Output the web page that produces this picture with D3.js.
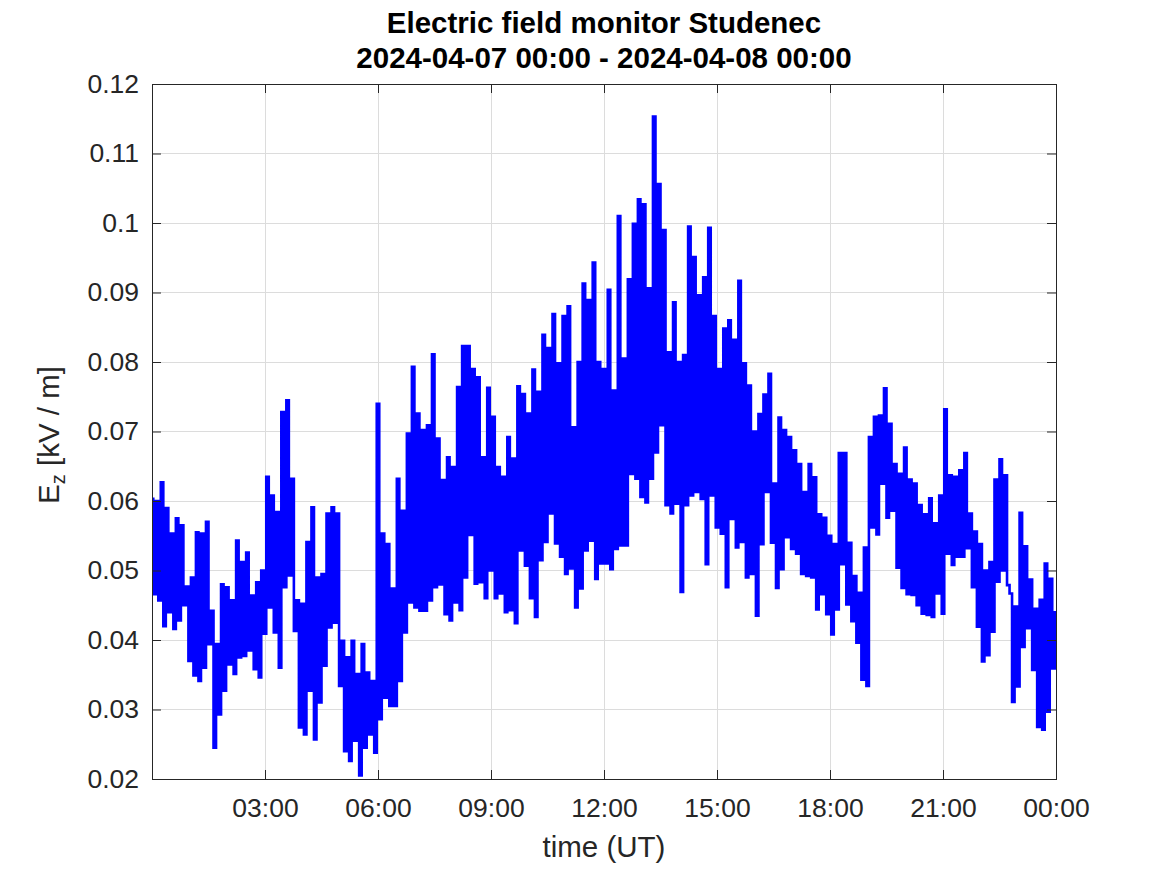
<!DOCTYPE html>
<html>
<head>
<meta charset="utf-8">
<script src="https://cdn.jsdelivr.net/npm/d3@7"></script>
<style>
  html, body { margin: 0; padding: 0; background: #fff; }
  svg { display: block; }
  text { font-family: "Liberation Sans", Arial, Helvetica, sans-serif; }
</style>
</head>
<body>
<svg id="chart" width="1167" height="875"></svg>
<script>
// ---------------- data ----------------
const titleLines = ["Electric field monitor Studenec", "2024-04-07 00:00 - 2024-04-08 00:00"];
const startTime = Date.UTC(2024, 3, 7, 0, 0);
const endTime = Date.UTC(2024, 3, 8, 0, 0);
const stepMinutes = 4;
const ezValues = [
  0.0603,0.0466, 0.0600,0.0457, 0.0627,0.0420, 0.0590,0.0440, 0.0553,0.0416, 0.0575,0.0428,
  0.0565,0.0450, 0.0477,0.0370, 0.0490,0.0349, 0.0555,0.0341, 0.0553,0.0360, 0.0570,0.0394,
  0.0442,0.0245, 0.0394,0.0293, 0.0480,0.0327, 0.0476,0.0365, 0.0457,0.0351, 0.0543,0.0375,
  0.0512,0.0377, 0.0526,0.0385, 0.0464,0.0358, 0.0483,0.0346, 0.0500,0.0409, 0.0635,0.0447,
  0.0608,0.0411, 0.0584,0.0360, 0.0728,0.0476, 0.0745,0.0493, 0.0632,0.0413, 0.0457,0.0274,
  0.0452,0.0264, 0.0541,0.0327,
  0.0591,0.0257, 0.0490,0.0310, 0.0495,0.0363, 0.0582,0.0418, 0.0591,0.0425, 0.0582,0.0334,
  0.0399,0.0240, 0.0375,0.0226, 0.0399,0.0255, 0.0351,0.0205, 0.0394,0.0245, 0.0353,0.0264,
  0.0341,0.0238, 0.0740,0.0286, 0.0553,0.0317, 0.0538,0.0305, 0.0474,0.0305, 0.0632,0.0341,
  0.0586,0.0411, 0.0697,0.0454, 0.0793,0.0447, 0.0726,0.0442, 0.0702,0.0442, 0.0709,0.0457,
  0.0811,0.0476, 0.0690,0.0480, 0.0630,0.0437, 0.0663,0.0428, 0.0649,0.0454,
  0.0764,0.0443, 0.0823,0.0490, 0.0823,0.0551, 0.0790,0.0481, 0.0778,0.0483, 0.0663,0.0460,
  0.0763,0.0500, 0.0721,0.0460, 0.0649,0.0467, 0.0635,0.0440, 0.0692,0.0443, 0.0661,0.0424,
  0.0765,0.0529, 0.0754,0.0507, 0.0726,0.0460, 0.0789,0.0433, 0.0757,0.0515, 0.0839,0.0541,
  0.0820,0.0582, 0.0869,0.0539, 0.0798,0.0520, 0.0866,0.0495, 0.0880,0.0503, 0.0706,0.0447,
  0.0800,0.0474, 0.0913,0.0529, 0.0889,0.0543, 0.0943,0.0488, 0.0800,0.0510, 0.0790,0.0510,
  0.0904,0.0502, 0.0759,0.0531, 0.1010,0.0536, 0.0805,0.0536, 0.0919,0.0639, 0.0999,0.0632,
  0.1034,0.0606, 0.1027,0.0598, 0.0906,0.0632, 0.1153,0.0670, 0.1056,0.0709, 0.0990,0.0594,
  0.0814,0.0582, 0.0886,0.0596, 0.0800,0.0469, 0.0810,0.0594, 0.0995,0.0608, 0.0951,0.0613,
  0.0896,0.0603, 0.0922,0.0509, 0.0993,0.0608, 0.0866,0.0562, 0.0790,0.0553, 0.0848,0.0476,
  0.0860,0.0574, 0.0832,0.0533, 0.0917,0.0541, 0.0798,0.0490, 0.0766,0.0495, 0.0700,0.0435,
  0.0725,0.0538, 0.0753,0.0613, 0.0783,0.0540, 0.0625,0.0475, 0.0720,0.0502, 0.0702,0.0548,
  0.0692,0.0531, 0.0673,0.0524, 0.0653,0.0495, 0.0613,0.0492, 0.0653,0.0490, 0.0634,0.0444,
  0.0581,0.0466, 0.0576,0.0437, 0.0550,0.0408, 0.0538,0.0444, 0.0669,0.0509, 0.0669,0.0451,
  0.0540,0.0427, 0.0492,0.0396, 0.0468,0.0343, 0.0533,0.0334, 0.0692,0.0562, 0.0721,0.0552,
  0.0723,0.0625, 0.0762,0.0576, 0.0711,0.0586, 0.0653,0.0504, 0.0639,0.0475, 0.0677,0.0466,
  0.0631,0.0465, 0.0625,0.0450, 0.0594,0.0438, 0.0581,0.0436, 0.0604,0.0433, 0.0568,0.0467,
  0.0608,0.0438, 0.0732,0.0524, 0.0637,0.0508, 0.0635,0.0520, 0.0644,0.0520, 0.0669,0.0532,
  0.0582,0.0476, 0.0556,0.0419, 0.0538,0.0369, 0.0500,0.0378, 0.0512,0.0412, 0.0631,0.0484,
  0.0660,0.0500, 0.0637,0.0479, 0.0467,0.0311, 0.0448,0.0333, 0.0583,0.0390, 0.0535,0.0417,
  0.0487,0.0357, 0.0445,0.0275, 0.0458,0.0271, 0.0510,0.0297, 0.0488,0.0359,
  0.0440
];
const xTickHours = [3, 6, 9, 12, 15, 18, 21, 24];
const xTickLabels = ["03:00", "06:00", "09:00", "12:00", "15:00", "18:00", "21:00", "00:00"];
const yTicks = [0.02, 0.03, 0.04, 0.05, 0.06, 0.07, 0.08, 0.09, 0.10, 0.11, 0.12];
const yTickLabels = ["0.02", "0.03", "0.04", "0.05", "0.06", "0.07", "0.08", "0.09", "0.1", "0.11", "0.12"];
const xLabel = "time (UT)";

// ---------------- layout ----------------
const L = 152, R = 1056, T = 84, B = 779;
const textColor = "#262626";
const svg = d3.select("#chart");

const x = d3.scaleUtc().domain([new Date(startTime), new Date(endTime)]).range([L, R]);
const y = d3.scaleLinear().domain([0.02, 0.12]).range([B, T]);

const xTickDates = xTickHours.map(h => new Date(startTime + h * 3600e3));
const points = ezValues.map((v, i) => ({ t: new Date(startTime + i * stepMinutes * 60e3), v }));

// grid
const grid = svg.append("g").attr("stroke", "#dcdcdc").attr("stroke-width", 1).attr("shape-rendering", "crispEdges");
grid.selectAll("line.gx").data(xTickDates).join("line")
  .attr("x1", d => x(d)).attr("x2", d => x(d)).attr("y1", T).attr("y2", B);
grid.selectAll("line.gy").data(yTicks).join("line")
  .attr("x1", L).attr("x2", R).attr("y1", d => y(d)).attr("y2", d => y(d));

// data line (dense trace: drawn as steps so the rapid swings form vertical strokes)
svg.append("clipPath").attr("id", "clip").append("rect")
  .attr("x", L).attr("y", T).attr("width", R - L).attr("height", B - T);
svg.append("path")
  .datum(points)
  .attr("clip-path", "url(#clip)")
  .attr("fill", "none")
  .attr("stroke", "#0000ff")
  .attr("stroke-width", 2.6)
  .attr("stroke-linejoin", "miter")
  .attr("d", d3.line().curve(d3.curveStep).x(d => x(d.t)).y(d => y(d.v)));

// axes
const fmtX = (d, i) => xTickLabels[i];
const fmtY = (d, i) => yTickLabels[i];
const gB = svg.append("g").attr("transform", `translate(0,${B})`)
  .call(d3.axisBottom(x).tickValues(xTickDates).tickFormat(fmtX).tickSizeInner(-9).tickSizeOuter(0).tickPadding(19));
const gL = svg.append("g").attr("transform", `translate(${L},0)`)
  .call(d3.axisLeft(y).tickValues(yTicks).tickFormat(fmtY).tickSizeInner(-9).tickSizeOuter(0).tickPadding(13));
const gT = svg.append("g").attr("transform", `translate(0,${T})`)
  .call(d3.axisTop(x).tickValues(xTickDates).tickFormat("").tickSizeInner(-9).tickSizeOuter(0));
const gR = svg.append("g").attr("transform", `translate(${R},0)`)
  .call(d3.axisRight(y).tickValues(yTicks).tickFormat("").tickSizeInner(-9).tickSizeOuter(0));

[gB, gL, gT, gR].forEach(g => {
  g.select(".domain").remove();
  g.selectAll(".tick line").attr("stroke", textColor).attr("stroke-width", 1);
  g.selectAll(".tick text").attr("fill", textColor).attr("font-size", 26.5)
    .attr("font-family", '"Liberation Sans", Arial, Helvetica, sans-serif');
});

svg.append("rect").attr("x", L).attr("y", T).attr("width", R - L).attr("height", B - T)
  .attr("fill", "none").attr("stroke", textColor).attr("stroke-width", 1).attr("shape-rendering", "crispEdges");

// title
svg.append("text").attr("x", (L + R) / 2).attr("y", 33).attr("text-anchor", "middle")
  .attr("font-size", 29.5).attr("font-weight", "bold").attr("fill", "#000").text(titleLines[0]);
svg.append("text").attr("x", (L + R) / 2).attr("y", 68).attr("text-anchor", "middle")
  .attr("font-size", 29.5).attr("font-weight", "bold").attr("fill", "#000").text(titleLines[1]);

// x label
svg.append("text").attr("x", (L + R) / 2).attr("y", 857).attr("text-anchor", "middle")
  .attr("font-size", 29.5).attr("fill", textColor).text(xLabel);

// y label
const yl = svg.append("text")
  .attr("transform", `translate(59,435) rotate(-90)`)
  .attr("text-anchor", "middle").attr("font-size", 29.5).attr("fill", textColor);
yl.append("tspan").text("E");
yl.append("tspan").attr("font-size", 20).attr("dy", 6).text("z");
yl.append("tspan").attr("dy", -6).text(" [kV / m]");
</script>
</body>
</html>
